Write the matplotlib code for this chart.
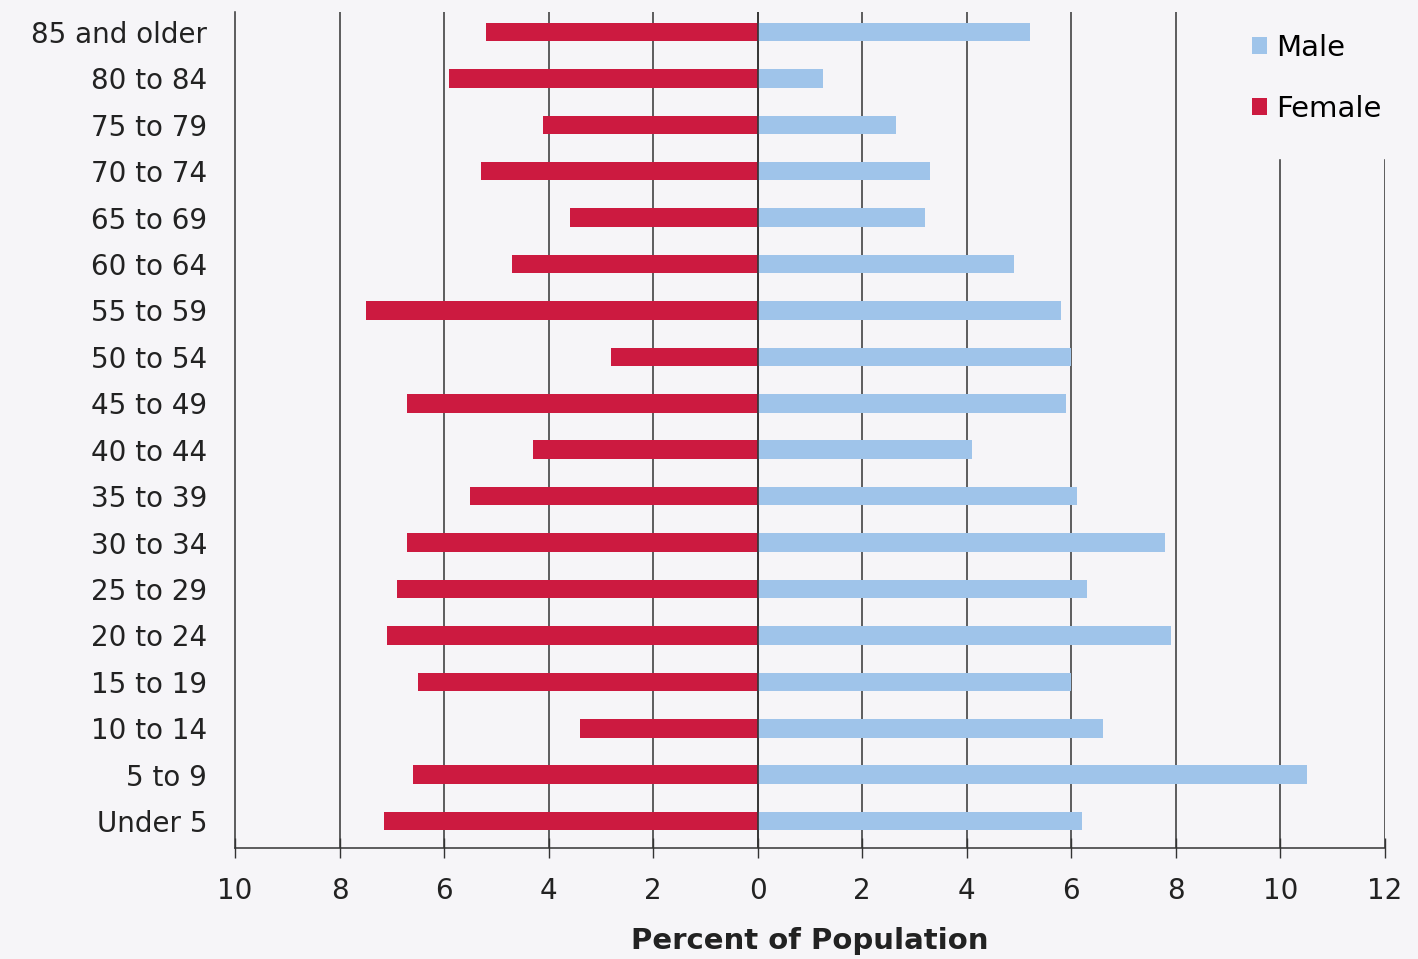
import numpy as np
import matplotlib.pyplot as plt

ages = ['Under 5', '5 to 9', '10 to 14', '15 to 19', '20 to 24', '25 to 29',
        '30 to 34', '35 to 39', '40 to 44', '45 to 49', '50 to 54', '55 to 59',
        '60 to 64', '65 to 69', '70 to 74', '75 to 79', '80 to 84', '85 and older']
male = [6.2, 10.5, 6.6, 6.0, 7.9, 6.3, 7.8, 6.1, 4.1, 5.9, 6.0, 5.8,
        4.9, 3.2, 3.3, 2.65, 1.25, 5.2]
female = [7.15, 6.6, 3.4, 6.5, 7.1, 6.9, 6.7, 5.5, 4.3, 6.7, 2.8, 7.5,
          4.7, 3.6, 5.3, 4.1, 5.9, 5.2]
xticks = [-10, -8, -6, -4, -2, 0, 2, 4, 6, 8, 10, 12]

bg = '#f6f5f8'
male_col = '#9fc4ea'
female_col = '#cc1a40'

fig = plt.figure(figsize=(14.18, 9.59), dpi=100, facecolor=bg)
ax = fig.add_axes([0.1657, 0.1157, 0.811, 0.8718], facecolor=bg)

y = np.arange(len(ages))
ax.barh(y, male, height=0.4, color=male_col, label='Male', zorder=3)
ax.barh(y, -np.array(female), height=0.4, color=female_col, label='Female', zorder=3)

ax.set_xlim(-10, 12)
ax.set_ylim(-0.58, 17.43)
ax.set_yticks(y)
ax.set_yticklabels(ages, fontsize=20, color='#222')
ax.set_xticks(xticks)
ax.set_xticklabels([str(abs(t)) for t in xticks], fontsize=20, color='#222')
ax.tick_params(axis='y', length=0, pad=20)
ax.tick_params(axis='x', direction='inout', length=14, width=1, color='#333', pad=14)

for t in xticks[1:]:
    ax.axvline(t, color='#333', lw=1.1, zorder=1)
ax.axvline(0, color='#333', lw=1.2, zorder=4)

for s in ['top', 'right']:
    ax.spines[s].set_visible(False)
ax.spines['left'].set_color('#333')
ax.spines['bottom'].set_color('#333')
ax.spines['left'].set_linewidth(1.1)
ax.spines['bottom'].set_linewidth(1.1)

ax.set_xlabel('Percent of Population', fontsize=21, fontweight='bold', color='#222', labelpad=16)

leg = ax.legend(loc='upper right', bbox_to_anchor=(1.027, 1.016), fontsize=21,
                frameon=True, facecolor=bg, edgecolor=bg, framealpha=1,
                handlelength=0.5, handleheight=0.5, handletextpad=0.3,
                labelspacing=1.15, borderpad=1.2, borderaxespad=0)

fig.savefig('out.png', dpi=100, facecolor=bg)
